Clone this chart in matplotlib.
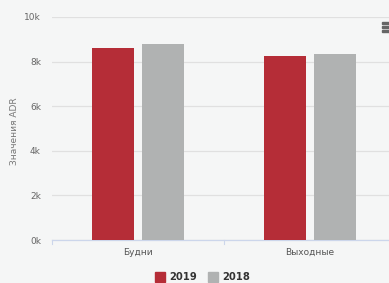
import matplotlib.pyplot as plt
from matplotlib.patches import Rectangle
import numpy as np

categories = ['Будни', 'Выходные']
series_names = ['2019', '2018']
values_2019 = [8610, 8250]
values_2018 = [8800, 8340]
colors = ['#b52d37', '#b0b2b2']

W, H = 389, 283
bg = '#f5f6f6'
fig = plt.figure(figsize=(W / 100, H / 100), dpi=100, facecolor=bg)
ax = fig.add_axes([52 / W, 43 / H, 344 / W, 223 / H], facecolor=bg)

x = np.arange(len(categories))
bw = 0.24
ax.bar(x - 0.146, values_2019, bw, color=colors[0], zorder=3)
ax.bar(x + 0.146, values_2018, bw, color=colors[1], zorder=3)

ax.set_xlim(-0.5, 1.5)
ax.set_ylim(0, 10000)
yt = np.arange(0, 10001, 2000)
ax.set_yticks(yt)
ax.set_yticklabels([f'{int(v / 1000)}k' for v in yt], fontsize=6.5, color='#666666')
ax.tick_params(axis='y', length=0, pad=8)
ax.grid(axis='y', color='#e0e0e0', lw=0.9, zorder=0)

ax.set_xticks(x)
ax.set_xticklabels(categories, fontsize=6.5, color='#555555')
ax.tick_params(axis='x', length=0, pad=6)
for b in [-0.5, 0.5]:
    ax.plot([b, b], [0, -180], color='#ccd6eb', lw=0.8, clip_on=False)

for s in ['top', 'right', 'left']:
    ax.spines[s].set_visible(False)
ax.spines['bottom'].set_color('#ccd6eb')
ax.spines['bottom'].set_linewidth(0.9)

ax.set_ylabel('Значения ADR', fontsize=6.5, color='#777777')
ax.yaxis.set_label_coords(-0.096, 0.49)

# legend
fig.patches.append(Rectangle((155 / W, 1 - 282 / H), 10 / W, 10 / H,
                             transform=fig.transFigure, color=colors[0]))
fig.text(169 / W, 1 - 277 / H, series_names[0], fontsize=7.2, fontweight='bold',
         color='#333333', va='center')
fig.patches.append(Rectangle((208 / W, 1 - 282 / H), 10 / W, 10 / H,
                             transform=fig.transFigure, color=colors[1]))
fig.text(222 / W, 1 - 277 / H, series_names[1], fontsize=7.2, fontweight='bold',
         color='#333333', va='center')

# menu icon
for dy in [23, 27, 31]:
    fig.patches.append(Rectangle((382 / W, 1 - (dy + 1.2) / H), 8 / W, 2 / H,
                                 transform=fig.transFigure, color='#666666'))

fig.savefig('out.png', dpi=100, facecolor=bg)
